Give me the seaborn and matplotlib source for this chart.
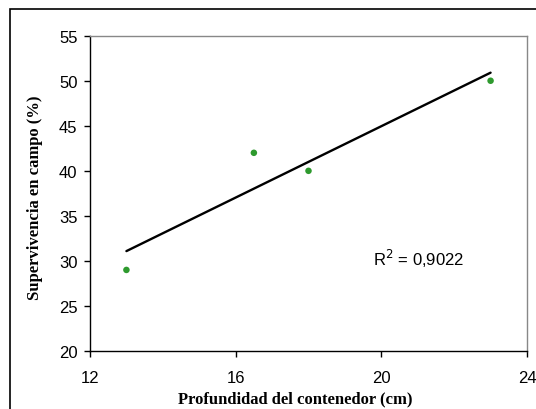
import numpy as np
import matplotlib
matplotlib.use("Agg")
import matplotlib.pyplot as plt
import seaborn as sns
import pandas as pd
from matplotlib.patches import Rectangle

depth = [13, 16.5, 18, 23]
survival = [29, 42, 40, 50]
x_ticks = [12, 16, 20, 24]
y_ticks = [20, 25, 30, 35, 40, 45, 50, 55]

df = pd.DataFrame({"depth": depth, "survival": survival})

sns.set_style("white")
plt.rcParams['font.family'] = ['Liberation Sans', 'DejaVu Sans']
plt.rcParams['text.color'] = 'black'
plt.rcParams['xtick.color'] = 'black'
plt.rcParams['ytick.color'] = 'black'
plt.rcParams['axes.labelcolor'] = 'black'

fig = plt.figure(figsize=(5.36, 4.10), dpi=100)
ax = fig.add_axes([90/536, 1-352/410, (527-90)/536, (352-36.7)/410])

sns.regplot(data=df, x="depth", y="survival", ax=ax, ci=None, truncate=True,
            scatter_kws=dict(color="#2e9a2e", s=22, edgecolor="none", alpha=1, zorder=3),
            line_kws=dict(color="black", lw=1.7))

slope, intercept = np.polyfit(depth, survival, 1)
pred = np.polyval([slope, intercept], depth)
r2 = 1 - np.sum((np.array(survival) - pred)**2) / np.sum((np.array(survival) - np.mean(survival))**2)
ax.text(19.78, 30.3, "R$^2$ = " + f"{r2:.4f}".replace(".", ","), fontsize=12, va="center", ha="left")

ax.set_xlim(12, 24)
ax.set_ylim(20, 55)
ax.set_xticks(x_ticks)
ax.set_yticks(y_ticks)
ax.tick_params(axis="both", direction="out", length=4, width=1, labelsize=12,
               left=True, bottom=True)
ax.tick_params(axis="x", pad=10)
ax.tick_params(axis="y", pad=5)
for s in ["top", "right"]:
    ax.spines[s].set_color("#888888")
    ax.spines[s].set_linewidth(1)
for s in ["left", "bottom"]:
    ax.spines[s].set_color("black")
    ax.spines[s].set_linewidth(1)

ax.set_xlabel("Profundidad del contenedor (cm)", fontfamily="Liberation Serif",
              fontweight="bold", fontsize=12)
ax.set_ylabel("Supervivencia en campo (%)", fontfamily="Liberation Serif",
              fontweight="bold", fontsize=12)
ax.xaxis.set_label_coords((295-90)/437, -(403-352)/315.3, transform=ax.transAxes)
ax.xaxis.label.set_va("baseline")
ax.yaxis.set_label_coords(-(90-35)/437, (352-198)/315.3, transform=ax.transAxes)
ax.yaxis.label.set_va("center")

fig.patches.append(Rectangle((10/536, -0.1), 1.2, (410-10)/410 + 0.1, transform=fig.transFigure,
                             fill=False, edgecolor="black", lw=1.2))

fig.savefig("out.png", dpi=100)
